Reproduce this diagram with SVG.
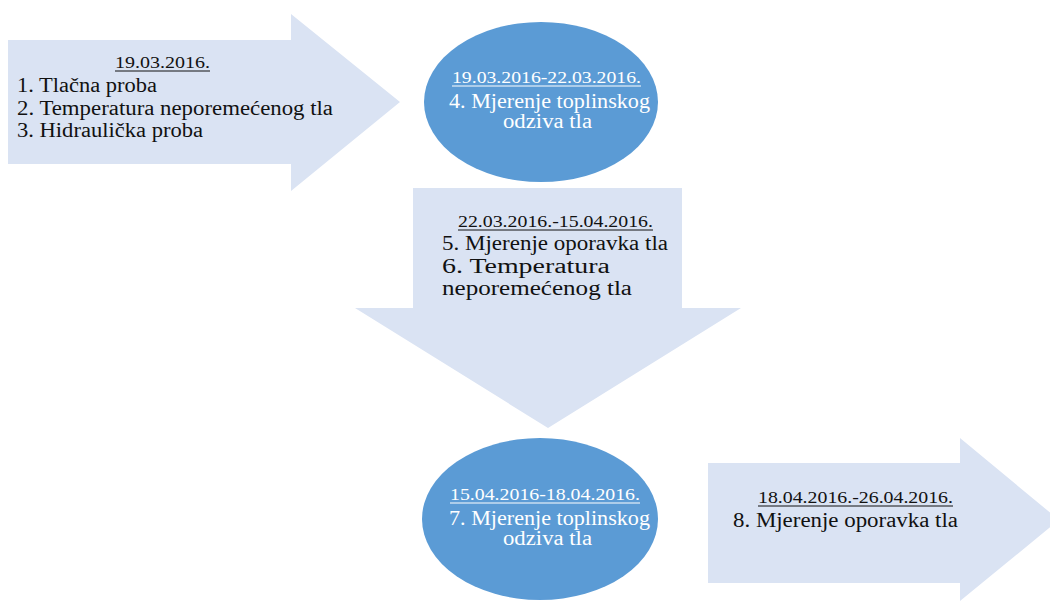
<svg xmlns="http://www.w3.org/2000/svg" width="1050" height="601" viewBox="0 0 1050 601">
<style>
.arrow{fill:#DAE3F3;stroke:none}
.oval{fill:#5B9BD5;stroke:none}
.t{font-family:"Liberation Serif","Times New Roman",serif;font-size:20px;fill:#111}
.d{font-family:"Liberation Serif","Times New Roman",serif;font-size:16.5px;fill:#111}
.w{fill:#fff}
.ul{stroke:#111;stroke-width:1}
.ulw{stroke:#fff;stroke-width:1}
</style>
<rect width="1050" height="601" fill="#fff"/>
<g id="connectors"/>
<g id="node1">
<polygon class="arrow" points="8,40 291,40 291,14 400,102 291,191 291,164 8,164"/>
<text class="d" x="115" y="68" textLength="95" lengthAdjust="spacingAndGlyphs">19.03.2016.</text>
<line class="ul" x1="115" y1="71" x2="210" y2="71"/>
<text class="t" x="17" y="92" textLength="140" lengthAdjust="spacingAndGlyphs">1. Tlačna proba</text>
<text class="t" x="17" y="115" textLength="316" lengthAdjust="spacingAndGlyphs">2. Temperatura neporemećenog tla</text>
<text class="t" x="17" y="137" textLength="186" lengthAdjust="spacingAndGlyphs">3. Hidraulička proba</text>
</g>
<g id="node2">
<ellipse class="oval" cx="541" cy="102" rx="117" ry="80"/>
<text class="d w" x="452" y="83" textLength="189" lengthAdjust="spacingAndGlyphs">19.03.2016-22.03.2016.</text>
<line class="ulw" x1="452" y1="86" x2="641" y2="86"/>
<text class="t w" x="449" y="108" textLength="201" lengthAdjust="spacingAndGlyphs">4. Mjerenje toplinskog</text>
<text class="t w" x="503" y="128" textLength="89" lengthAdjust="spacingAndGlyphs">odziva tla</text>
</g>
<g id="node3">
<polygon class="arrow" points="413,188 682,188 682,308 741,308 548,428 355,308 413,308"/>
<text class="d" x="458" y="227" textLength="195" lengthAdjust="spacingAndGlyphs">22.03.2016.-15.04.2016.</text>
<line class="ul" x1="458" y1="230" x2="653" y2="230"/>
<text class="t" x="442" y="250" textLength="226" lengthAdjust="spacingAndGlyphs">5. Mjerenje oporavka tla</text>
<text class="t" x="442" y="273" textLength="168" lengthAdjust="spacingAndGlyphs">6. Temperatura</text>
<text class="t" x="442" y="295" textLength="190" lengthAdjust="spacingAndGlyphs">neporemećenog tla</text>
</g>
<g id="node4">
<ellipse class="oval" cx="540" cy="519" rx="118" ry="81"/>
<text class="d w" x="450" y="500" textLength="190" lengthAdjust="spacingAndGlyphs">15.04.2016-18.04.2016.</text>
<line class="ulw" x1="450" y1="503" x2="640" y2="503"/>
<text class="t w" x="449" y="525" textLength="201" lengthAdjust="spacingAndGlyphs">7. Mjerenje toplinskog</text>
<text class="t w" x="503" y="545" textLength="89" lengthAdjust="spacingAndGlyphs">odziva tla</text>
</g>
<g id="node5">
<polygon class="arrow" points="708,463 960,463 960,438 1059,520 960,601 960,583 708,583"/>
<text class="d" x="758" y="503" textLength="195" lengthAdjust="spacingAndGlyphs">18.04.2016.-26.04.2016.</text>
<line class="ul" x1="758" y1="506" x2="953" y2="506"/>
<text class="t" x="733" y="527" textLength="225" lengthAdjust="spacingAndGlyphs">8. Mjerenje oporavka tla</text>
</g>
</svg>
